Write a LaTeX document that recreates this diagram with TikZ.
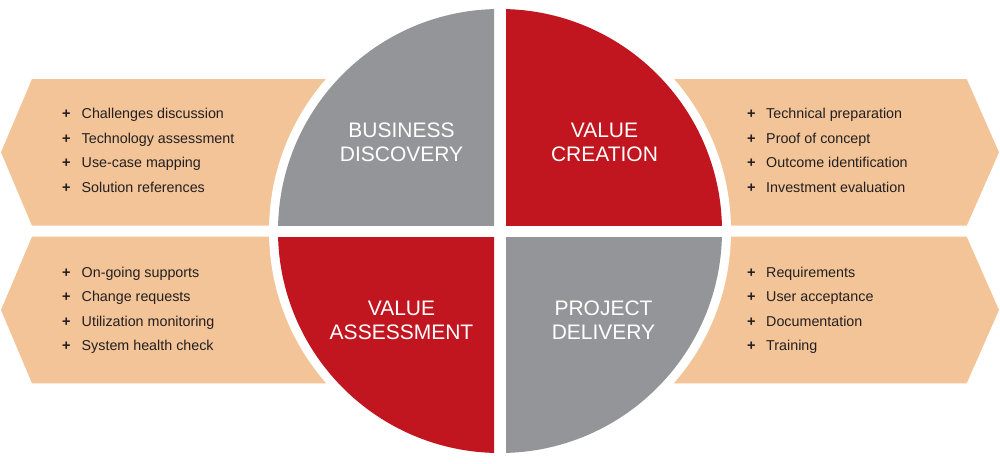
\documentclass[tikz,border=0pt]{standalone}
\usepackage{fontspec}
\setmainfont{Liberation Sans}
\definecolor{qgray}{HTML}{939598}
\definecolor{qred}{HTML}{C1151F}
\definecolor{peach}{HTML}{F3C497}
\definecolor{ink}{HTML}{231F20}
\begin{document}
\begin{tikzpicture}[x=1pt,y=-1pt,
  banner/.style={fill=peach},
  qlabel/.style={text=white, font=\fontsize{21}{24}\selectfont, inner sep=0pt, anchor=base},
  item/.style={text=ink, font=\fontsize{14.3}{17}\selectfont, inner sep=0pt, anchor=base west},
  plus/.style={text=ink, font=\bfseries\fontsize{14.5}{16}\selectfont, inner sep=0pt, anchor=base}]
\useasboundingbox (0,0) rectangle (1000,463);
% banners
\fill[banner] (32,79) -- (400,79) -- (400,225.7) -- (32,225.7) -- (1,152.3) -- cycle;
\fill[banner] (32,236.7) -- (400,236.7) -- (400,383.3) -- (32,383.3) -- (1,310) -- cycle;
\fill[banner] (600,79) -- (966.7,79) -- (999,152.3) -- (966.7,225.7) -- (600,225.7) -- cycle;
\fill[banner] (600,236.7) -- (966.7,236.7) -- (999,310) -- (966.7,383.3) -- (600,383.3) -- cycle;
% white ring
\coordinate (c) at (500,231);
\fill[white] (c) circle[radius=231pt];
% quadrants
\begin{scope}\clip (0,0) rectangle (494,225);
  \fill[qgray] (c) circle[radius=222pt];\end{scope}
\begin{scope}\clip (506,0) rectangle (1000,225);
  \fill[qred] (c) circle[radius=222pt];\end{scope}
\begin{scope}\clip (0,237) rectangle (494,463);
  \fill[qred] (c) circle[radius=222pt];\end{scope}
\begin{scope}\clip (506,237) rectangle (1000,463);
  \fill[qgray] (c) circle[radius=222pt];\end{scope}
% quadrant labels
\node[qlabel] (bd1) at (401.5,137.5) {BUSINESS};
\node[qlabel] (bd2) at (401.5,161.5) {DISCOVERY};
\node[qlabel] (vc1) at (604.5,137.5) {VALUE};
\node[qlabel] (vc2) at (604.5,161.5) {CREATION};
\node[qlabel] (va1) at (401.5,315) {VALUE};
\node[qlabel] (va2) at (401.5,339) {ASSESSMENT};
\node[qlabel] (pd1) at (603.5,315) {PROJECT};
\node[qlabel] (pd2) at (603.5,339) {DELIVERY};
% lists
\foreach \t [count=\i] in {Challenges discussion,Technology assessment,Use-case mapping,Solution references}{
  \node[plus] (tlp\i) at (66.3,{118.7+24.5*(\i-1)}) {+};
  \node[item] (tl\i) at (81.5,{118.7+24.5*(\i-1)}) {\t};}
\foreach \t [count=\i] in {On-going supports,Change requests,Utilization monitoring,System health check}{
  \node[plus] (blp\i) at (66.3,{277+24.5*(\i-1)}) {+};
  \node[item] (bl\i) at (81.5,{277+24.5*(\i-1)}) {\t};}
\foreach \t [count=\i] in {Technical preparation,Proof of concept,Outcome identification,Investment evaluation}{
  \node[plus] (trp\i) at (751.3,{118.7+24.5*(\i-1)}) {+};
  \node[item] (tr\i) at (766,{118.7+24.5*(\i-1)}) {\t};}
\foreach \t [count=\i] in {Requirements,User acceptance,Documentation,Training}{
  \node[plus] (brp\i) at (751.3,{277+24.5*(\i-1)}) {+};
  \node[item] (br\i) at (766,{277+24.5*(\i-1)}) {\t};}
\end{tikzpicture}
\end{document}
